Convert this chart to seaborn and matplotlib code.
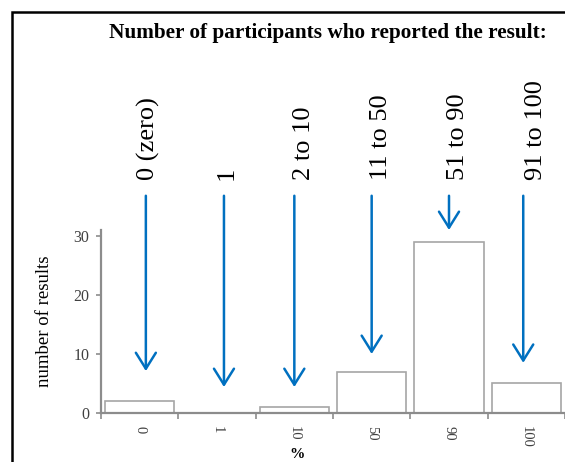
import numpy as np
import pandas as pd
import matplotlib
matplotlib.use("Agg")
import matplotlib.pyplot as plt
from matplotlib.patches import Rectangle
import seaborn as sns

# Données
pct_labels = ["0", "1", "10", "50", "90", "100"]
counts = [2, 0, 1, 7, 29, 5]
group_labels = ["0 (zero)", "1", "2 to 10", "11 to 50", "51 to 90", "91 to 100"]
# flèches : décalage en x par rapport au centre de la barre, pointe en y
arrow_dx = [0.08, 0.09, 0.0, 0.0, 0.0, -0.04]
arrow_tip = [7.1, 4.4, 4.4, 10.0, 31.0, 8.5]

sns.set_style("white")
plt.rcParams["font.family"] = ["Liberation Serif", "DejaVu Serif"]
plt.rcParams["text.color"] = "black"
plt.rcParams["axes.labelcolor"] = "black"

df = pd.DataFrame({"pct": pct_labels, "count": counts})

fig = plt.figure(figsize=(5.65, 4.62), dpi=100)
ax = fig.add_axes([101 / 565, 49 / 462, 464 / 565, 183 / 462])

sns.barplot(data=df, x="pct", y="count", color="white", edgecolor="#a6a6a6",
            linewidth=1.2, width=0.9, ax=ax)

ax.set_xlim(-0.5, 5.5)
ax.set_ylim(0, 31)
ax.set_yticks([0, 10, 20, 30])

grey = "#8c8c8c"
sns.despine(ax=ax)
for s in ["left", "bottom"]:
    ax.spines[s].set_color(grey)
    ax.spines[s].set_linewidth(1.6)

ax.tick_params(axis="y", direction="out", length=3.5, width=1.2, color=grey,
               pad=5, labelsize=11.5, labelcolor="#404040", left=True)
ax.set_xticks(range(len(pct_labels)))
ax.set_xticklabels(pct_labels, rotation=270)
ax.set_xticks(np.arange(-0.5, len(pct_labels)), minor=True)
ax.tick_params(axis="x", which="major", length=0, pad=9, labelsize=10.5,
               labelcolor="#404040")
ax.tick_params(axis="x", which="minor", direction="out", length=4, width=1.2,
               color=grey, bottom=True)

ax.set_ylabel("number of results", fontsize=13.5)
ax.yaxis.set_label_coords(-0.104, 0.5)
ax.set_xlabel("%", fontsize=11, fontweight="bold")
ax.xaxis.set_label_coords(0.422, -0.19)

# flèches et libellés
for i, (lab, dx, tip) in enumerate(zip(group_labels, arrow_dx, arrow_tip)):
    ax.annotate("", xy=(i + dx, tip), xytext=(i + dx, 36.8),
                arrowprops=dict(arrowstyle="->,head_length=1.15,head_width=0.72",
                                color="#0070C0", lw=1.8, shrinkA=0, shrinkB=0,
                                mutation_scale=10),
                annotation_clip=False)
    ax.text(i + 0.12, 39.5, lab, rotation=90, ha="center", va="bottom",
            fontsize=19, clip_on=False)

fig.text(109 / 565, 1 - 33 / 462, "Number of participants who reported the result:",
         ha="left", va="center", fontsize=15.3, fontweight="bold")

fig.patches.append(Rectangle((11.5 / 565, -0.1), 1.2, 1.1 - 11.5 / 462,
                             transform=fig.transFigure, fill=False,
                             edgecolor="black", linewidth=1.8))

plt.savefig("out.png", dpi=100)
plt.close()
